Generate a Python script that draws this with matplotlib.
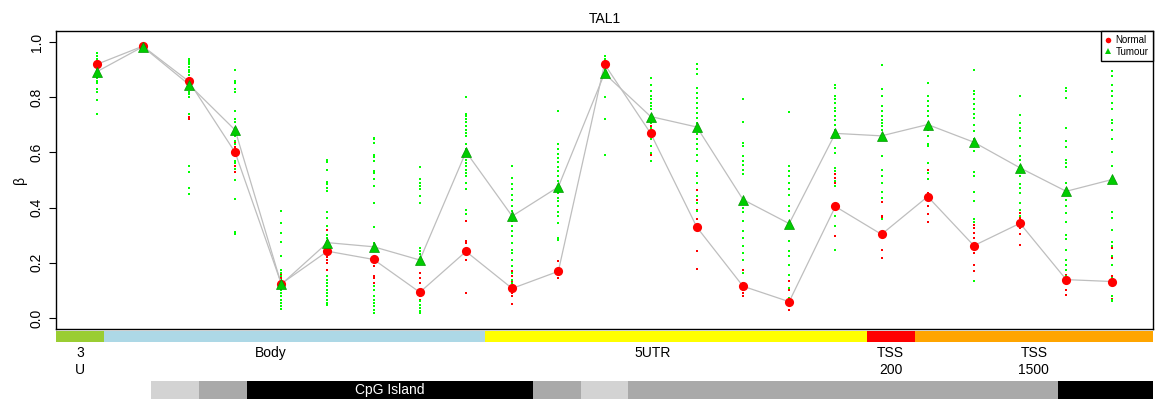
import matplotlib
matplotlib.use("Agg")
import matplotlib.pyplot as plt
from matplotlib.lines import Line2D
import numpy as np

plt.rcParams['font.family'] = ['Liberation Sans', 'DejaVu Sans']

gene = "TAL1"
probes = np.arange(1, 24)

normal_mean = [0.919, 0.985, 0.857, 0.600, 0.124, 0.242, 0.212, 0.093, 0.241, 0.107,
               0.169, 0.920, 0.669, 0.329, 0.115, 0.059, 0.404, 0.303, 0.440, 0.262,
               0.343, 0.139, 0.132]
tumour_mean = [0.892, 0.983, 0.846, 0.681, 0.122, 0.273, 0.258, 0.210, 0.602, 0.369,
               0.475, 0.886, 0.730, 0.692, 0.429, 0.342, 0.669, 0.660, 0.701, 0.637,
               0.544, 0.459, 0.502]

normal_samples = [
    [0.94, 0.93, 0.92, 0.91, 0.90],
    [0.99, 0.985, 0.98],
    [0.87, 0.86, 0.85, 0.84, 0.73, 0.72],
    [0.635, 0.62, 0.61, 0.60, 0.55, 0.54, 0.53],
    [0.16, 0.15, 0.14, 0.12, 0.11, 0.09],
    [0.32, 0.29, 0.26, 0.22, 0.21, 0.20, 0.175],
    [0.242, 0.211, 0.187, 0.151, 0.145, 0.127],
    [0.163, 0.145, 0.127, 0.103, 0.084, 0.066],
    [0.35, 0.28, 0.27, 0.21, 0.09],
    [0.211, 0.187, 0.169, 0.151, 0.133, 0.090, 0.078, 0.052],
    [0.205, 0.163, 0.145],
    [0.93, 0.92, 0.91],
    [0.695, 0.671, 0.647, 0.623, 0.589],
    [0.465, 0.429, 0.393, 0.357, 0.242, 0.178],
    [0.175, 0.163, 0.127, 0.103, 0.090, 0.078],
    [0.133, 0.103, 0.048, 0.030],
    [0.532, 0.520, 0.508, 0.490, 0.411, 0.296],
    [0.419, 0.371, 0.363, 0.308, 0.245, 0.217],
    [0.538, 0.453, 0.405, 0.375, 0.347],
    [0.338, 0.326, 0.308, 0.290, 0.236, 0.193, 0.169],
    [0.415, 0.381, 0.363, 0.326, 0.306, 0.266],
    [0.175, 0.157, 0.145, 0.127, 0.103, 0.084],
    [0.254, 0.226, 0.218, 0.151, 0.078, 0.068],
]

tumour_samples = [
    [0.96, 0.95, 0.94, 0.93, 0.92, 0.91, 0.90, 0.89, 0.88, 0.87, 0.86, 0.85, 0.83, 0.82, 0.79, 0.74],
    [0.99, 0.985, 0.98, 0.975],
    [0.94, 0.93, 0.925, 0.92, 0.91, 0.90, 0.89, 0.88, 0.85, 0.84, 0.82, 0.81, 0.80, 0.74,
     0.55, 0.53, 0.47, 0.45],
    [0.90, 0.86, 0.855, 0.85, 0.83, 0.82, 0.75, 0.72, 0.71, 0.69, 0.68, 0.66, 0.64, 0.63,
     0.57, 0.56, 0.54, 0.50, 0.43, 0.31, 0.305],
    [0.387, 0.345, 0.308, 0.274, 0.224, 0.175, 0.163, 0.151, 0.139, 0.127, 0.115, 0.103,
     0.090, 0.078, 0.066, 0.054, 0.042, 0.032],
    [0.572, 0.565, 0.538, 0.492, 0.484, 0.472, 0.459, 0.383, 0.363, 0.332, 0.302, 0.290,
     0.278, 0.260, 0.248, 0.151, 0.139, 0.127, 0.115, 0.103, 0.090, 0.078, 0.066, 0.054, 0.048],
    [0.653, 0.647, 0.635, 0.592, 0.584, 0.568, 0.532, 0.526, 0.502, 0.478, 0.417, 0.328,
     0.272, 0.260, 0.248, 0.115, 0.103, 0.078, 0.066, 0.054, 0.042, 0.030, 0.018],
    [0.548, 0.502, 0.490, 0.478, 0.466, 0.441, 0.417, 0.254, 0.242, 0.230, 0.211, 0.078,
     0.060, 0.048, 0.036, 0.024, 0.018],
    [0.800, 0.741, 0.732, 0.722, 0.710, 0.695, 0.683, 0.671, 0.659, 0.629, 0.611, 0.586,
     0.574, 0.562, 0.550, 0.538, 0.526, 0.514, 0.490, 0.468, 0.393, 0.375],
    [0.550, 0.508, 0.484, 0.466, 0.447, 0.429, 0.405, 0.387, 0.369, 0.351, 0.332, 0.314,
     0.296, 0.272, 0.248, 0.236, 0.211, 0.187, 0.163, 0.139, 0.127],
    [0.750, 0.629, 0.611, 0.596, 0.580, 0.565, 0.548, 0.532, 0.514, 0.496, 0.478, 0.453,
     0.435, 0.423, 0.405, 0.383, 0.369, 0.345, 0.290, 0.282],
    [0.95, 0.94, 0.925, 0.915, 0.90, 0.885, 0.80, 0.72, 0.59],
    [0.871, 0.846, 0.822, 0.804, 0.792, 0.780, 0.768, 0.756, 0.732, 0.707, 0.689, 0.671,
     0.647, 0.623, 0.599, 0.568],
    [0.919, 0.901, 0.885, 0.834, 0.816, 0.798, 0.780, 0.762, 0.744, 0.725, 0.707, 0.683,
     0.665, 0.647, 0.629, 0.611, 0.592, 0.568, 0.526, 0.514, 0.490, 0.441, 0.415, 0.387],
    [0.792, 0.710, 0.635, 0.623, 0.586, 0.568, 0.556, 0.538, 0.520, 0.423, 0.399, 0.383,
     0.351, 0.314, 0.290, 0.262, 0.236, 0.211, 0.163, 0.127],
    [0.746, 0.550, 0.532, 0.514, 0.490, 0.466, 0.447, 0.405, 0.387, 0.345, 0.278, 0.242,
     0.224, 0.193, 0.157, 0.109, 0.072],
    [0.846, 0.834, 0.804, 0.792, 0.780, 0.762, 0.750, 0.732, 0.719, 0.701, 0.683, 0.617,
     0.599, 0.544, 0.532, 0.496, 0.480, 0.369, 0.335, 0.248],
    [0.915, 0.828, 0.804, 0.768, 0.750, 0.732, 0.719, 0.707, 0.695, 0.683, 0.653, 0.586,
     0.538, 0.514, 0.490, 0.456, 0.435, 0.357],
    [0.850, 0.804, 0.786, 0.768, 0.750, 0.732, 0.707, 0.683, 0.659, 0.629, 0.623, 0.560,
     0.526, 0.502],
    [0.897, 0.822, 0.810, 0.792, 0.774, 0.756, 0.738, 0.725, 0.701, 0.677, 0.647, 0.604,
     0.528, 0.514, 0.456, 0.423, 0.359, 0.347, 0.133],
    [0.804, 0.735, 0.707, 0.689, 0.677, 0.653, 0.623, 0.586, 0.574, 0.550, 0.514, 0.484,
     0.472, 0.453, 0.417, 0.393, 0.369, 0.347],
    [0.834, 0.822, 0.798, 0.689, 0.641, 0.620, 0.574, 0.562, 0.548, 0.490, 0.453, 0.429,
     0.405, 0.381, 0.347, 0.302, 0.286, 0.248, 0.211, 0.193, 0.175, 0.151],
    [0.895, 0.877, 0.846, 0.822, 0.804, 0.780, 0.756, 0.719, 0.707, 0.683, 0.647, 0.601,
     0.550, 0.383, 0.363, 0.320, 0.274, 0.260, 0.224, 0.193, 0.145, 0.078, 0.066, 0.060],
]

gene_region = ["3U"] + ["Body"] * 8 + ["5UTR"] * 8 + ["TSS200"] + ["TSS1500"] * 5
cpg_region = ["", "", "Shelf", "Shore"] + ["Island"] * 6 + ["Shore", "Shelf"] \
    + ["Shore"] * 9 + ["Island"] * 2

region_colors = {"3U": "#9ACD32", "Body": "#ADD8E6", "5UTR": "#FFFF00",
                 "TSS200": "#FF0000", "TSS1500": "#FFA500"}
region_text = {"3U": "3\nU", "Body": "Body", "5UTR": "5UTR",
               "TSS200": "TSS\n200", "TSS1500": "TSS\n1500"}
cpg_colors = {"": "white", "Shelf": "#D3D3D3", "Shore": "#A9A9A9", "Island": "black"}

W, H = 1162, 399
fig = plt.figure(figsize=(W / 100, H / 100), dpi=100)

left_px, right_px, top_px, bottom_px = 56, 1153, 31, 329
def fx(px):
    return px / W
def fy(py):
    return 1 - py / H

ax = fig.add_axes([fx(left_px), fy(bottom_px), fx(right_px - left_px), (bottom_px - top_px) / H])

red = "#FF0000"
green = "#00FF00"

# individual samples
for x, vals in zip(probes, normal_samples):
    ax.plot([x] * len(vals), vals, ls="none", marker="s", ms=1.8, mew=0, color=red, zorder=2)
for x, vals in zip(probes, tumour_samples):
    ax.plot([x] * len(vals), vals, ls="none", marker="s", ms=1.8, mew=0, color=green, zorder=3)

# group means
ax.plot(probes, normal_mean, color="#BEBEBE", lw=0.9, zorder=4)
ax.plot(probes, tumour_mean, color="#BEBEBE", lw=0.9, zorder=4)
ax.plot(probes, normal_mean, ls="none", marker="o", ms=6.6, mew=0, color=red, zorder=5)
ax.plot(probes, tumour_mean, ls="none", marker="^", ms=7.0, mew=0.5,
        mfc="#00CC00", mec="#009900", zorder=6)

ax.set_xlim(0.12, 23.88)
ax.set_ylim(-0.04, 1.04)
ax.set_xticks([])
yt = np.arange(0, 1.01, 0.2)
ax.set_yticks(yt)
ax.set_yticklabels([f"{v:.1f}" for v in yt], rotation=90, va="center", fontsize=10)
ax.tick_params(axis="y", length=5, width=0.8, pad=4)
for s in ax.spines.values():
    s.set_linewidth(1.0)
ax.set_title(gene, fontsize=10, pad=6)
ax.set_ylabel("β", fontsize=10, labelpad=2)

handles = [Line2D([], [], ls="none", marker="o", ms=4, mew=0, color=red),
           Line2D([], [], ls="none", marker="^", ms=4, mew=0, color="#00CC00")]
leg = ax.legend(handles, ["Normal", "Tumour"], loc="upper right", fontsize=7,
                borderaxespad=0, fancybox=False, framealpha=1, edgecolor="black",
                handlelength=0.6, handletextpad=0.5, borderpad=0.45, labelspacing=0.15)
leg.get_frame().set_linewidth(1.0)

# gene region bar
n = len(probes)
bar_ax = fig.add_axes([fx(left_px), fy(342), fx(right_px - left_px), 11 / H])
bar_ax.bar(np.arange(n), [1] * n, width=1.0, align="edge",
           color=[region_colors[r] for r in gene_region], linewidth=0)
bar_ax.set_xlim(0, n)
bar_ax.set_ylim(0, 1)
bar_ax.axis("off")

# region labels, one per run of identical regions
runs = []
start = 0
for i in range(1, n + 1):
    if i == n or gene_region[i] != gene_region[start]:
        runs.append((gene_region[start], start, i))
        start = i
lab_ax = fig.add_axes([fx(left_px), fy(382), fx(right_px - left_px), 36 / H])
lab_ax.set_xlim(0, n)
lab_ax.set_ylim(0, 1)
lab_ax.axis("off")
for name, s0, s1 in runs:
    cell = s0 + (s1 - s0 - 1) // 2
    lab_ax.text(cell + 0.5, 1.0, region_text[name], ha="center", va="top",
                fontsize=10, linespacing=1.3)

# CpG context bar
cpg_ax = fig.add_axes([fx(left_px), 0, fx(right_px - left_px), 18 / H])
cpg_ax.bar(np.arange(n), [1] * n, width=1.0, align="edge",
           color=[cpg_colors[c] for c in cpg_region], linewidth=0)
cpg_ax.set_xlim(0, n)
cpg_ax.set_ylim(0, 1)
cpg_ax.axis("off")
isl = [i for i, c in enumerate(cpg_region) if c == "Island"]
first_run = [isl[0]]
for i in isl[1:]:
    if i == first_run[-1] + 1:
        first_run.append(i)
    else:
        break
cpg_ax.text((first_run[0] + first_run[-1] + 1) / 2, 0.5, "CpG Island", color="white",
            ha="center", va="center", fontsize=10)

fig.savefig("out.png", dpi=100)
